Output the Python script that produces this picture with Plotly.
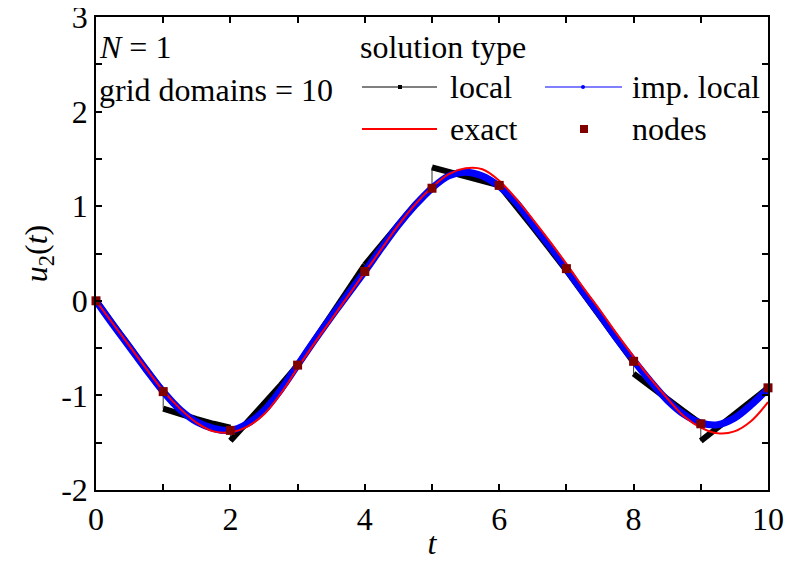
import plotly.graph_objects as go

# sample times (step 0.25) used by all curves
t_grid = [0, 0.25, 0.5, 0.75, 1, 1.25, 1.5, 1.75, 2, 2.25, 2.5, 2.75, 3, 3.25, 3.5, 3.75,
          4, 4.25, 4.5, 4.75, 5, 5.25, 5.5, 5.75, 6, 6.25, 6.5, 6.75, 7, 7.25, 7.5, 7.75,
          8, 8.25, 8.5, 8.75, 9, 9.25, 9.5, 9.75, 10]

exact_u = [0, -0.24, -0.48, -0.72, -0.95, -1.14, -1.29, -1.38, -1.39, -1.33, -1.20, -0.98,
           -0.71, -0.45, -0.20, 0.05, 0.30, 0.55, 0.80, 1.02, 1.20, 1.34, 1.40, 1.39, 1.27,
           1.08, 0.86, 0.63, 0.39, 0.14, -0.10, -0.35, -0.59, -0.82, -1.03, -1.22, -1.34,
           -1.40, -1.38, -1.27, -1.07]

imp_local_u = [0, -0.25, -0.49, -0.73, -0.96, -1.15, -1.28, -1.35, -1.37, -1.30, -1.16, -0.94,
               -0.68, -0.42, -0.17, 0.07, 0.31, 0.56, 0.80, 1.01, 1.19, 1.32, 1.36, 1.32, 1.21,
               1.04, 0.81, 0.58, 0.34, 0.09, -0.15, -0.40, -0.63, -0.85, -1.05, -1.20, -1.29,
               -1.31, -1.24, -1.10, -0.93]

# local solution, one list per grid domain [k, k+1]
local_segments = [
    [0, -0.25, -0.49, -0.73, -0.96],
    [-1.14, -1.20, -1.25, -1.30, -1.34],
    [-1.48, -1.29, -1.09, -0.89, -0.68],
    [-0.68, -0.41, -0.14, 0.13, 0.38],
    [0.38, 0.60, 0.82, 1.02, 1.19],
    [1.41, 1.36, 1.31, 1.27, 1.22],
    [1.22, 1.01, 0.78, 0.55, 0.32],
    [0.32, 0.08, -0.17, -0.41, -0.65],
    [-0.77, -0.91, -1.04, -1.17, -1.30],
    [-1.48, -1.34, -1.20, -1.06, -0.92],
]

node_t = [0, 1, 2, 3, 4, 5, 6, 7, 8, 9, 10]
node_u = [0, -0.96, -1.37, -0.68, 0.31, 1.19, 1.22, 0.34, -0.64, -1.30, -0.92]

y_ticks = [-2, -1, 0, 1, 2, 3]
y_ticklabels = ["-2", "-1", "0", "1", "2", "3"]

FONT = "Times New Roman, Times, serif"
DARKRED = "#800000"

# build local traces
thin_t, thin_u, thick_t, thick_u = [], [], [], []
for k, seg in enumerate(local_segments):
    ts = t_grid[4 * k:4 * k + 5]
    thin_t += ts
    thin_u += seg
    thick_t += ts + [None]
    thick_u += seg + [None]

fig = go.Figure()
fig.add_trace(go.Scatter(x=thin_t, y=thin_u, mode="lines", line=dict(color="#333333", width=1),
                         showlegend=False, hoverinfo="skip"))
fig.add_trace(go.Scatter(x=thick_t, y=thick_u, mode="lines", line=dict(color="black", width=6),
                         name="local", showlegend=False))
fig.add_trace(go.Scatter(x=t_grid, y=imp_local_u, mode="lines",
                         line=dict(color="#0000ff", width=7, shape="spline"),
                         name="imp. local", showlegend=False))
fig.add_trace(go.Scatter(x=t_grid, y=exact_u, mode="lines",
                         line=dict(color="#ff0000", width=2, shape="spline"),
                         name="exact", showlegend=False))
fig.add_trace(go.Scatter(x=node_t, y=node_u, mode="markers",
                         marker=dict(symbol="square", size=9, color=DARKRED),
                         name="nodes", showlegend=False, cliponaxis=False))

# plot area in window pixels: x 96..768, y 17..490 (page body adds an 8px offset)
def px(x):
    return (x - 96) / 672.0


def py(y):
    return (490 - y) / 473.0


shapes = [
    dict(type="line", xref="paper", yref="paper", x0=px(362), x1=px(437), y0=py(87), y1=py(87),
         line=dict(color="black", width=1)),
    dict(type="rect", xref="paper", yref="paper", x0=px(398), x1=px(402), y0=py(85), y1=py(89),
         fillcolor="black", line=dict(width=0)),
    dict(type="line", xref="paper", yref="paper", x0=px(545), x1=px(622), y0=py(87), y1=py(87),
         line=dict(color="#0000ff", width=1)),
    dict(type="circle", xref="paper", yref="paper", x0=px(581), x1=px(585), y0=py(85), y1=py(89),
         fillcolor="#0000ff", line=dict(width=0)),
    dict(type="line", xref="paper", yref="paper", x0=px(362), x1=px(437), y0=py(129), y1=py(129),
         line=dict(color="#ff0000", width=2)),
    dict(type="rect", xref="paper", yref="paper", x0=px(580), x1=px(588), y0=py(125), y1=py(133),
         fillcolor=DARKRED, line=dict(width=0)),
]


def label(text, x, y):
    return dict(text=text, xref="paper", yref="paper", x=px(x), y=py(y), xanchor="left",
                yanchor="middle", showarrow=False, font=dict(family=FONT, size=32, color="black"))


annotations = [
    label("<i>N</i> = 1", 97, 47),
    label("grid domains = 10", 97, 90),
    label("solution type", 358, 47),
    label("local", 448, 87),
    label("imp. local", 630, 87),
    label("exact", 448, 129),
    label("nodes", 630, 129),
]

axis_common = dict(showline=True, linecolor="black", linewidth=1.5, mirror="ticks",
                   ticks="inside", ticklen=6, tickwidth=1.5, tickcolor="black",
                   showgrid=False, zeroline=False, automargin=False,
                   ticklabeloverflow="allow",
                   tickfont=dict(family=FONT, size=32, color="black"))

fig.update_layout(
    width=785, height=553,
    margin=dict(l=88, r=25, t=9, b=71),
    paper_bgcolor="white", plot_bgcolor="white",
    font=dict(family=FONT, size=32, color="black"),
    shapes=shapes, annotations=annotations,
    xaxis=dict(range=[0, 10], tickvals=[0, 2, 4, 6, 8, 10],
               title=dict(text="<i>t</i>", standoff=0, font=dict(family=FONT, size=32)),
               **axis_common),
    yaxis=dict(range=[-2, 3], tickvals=y_ticks, ticktext=y_ticklabels,
               title=dict(text="<i>u</i><sub>2</sub>(<i>t</i>)", standoff=4,
                          font=dict(family=FONT, size=32)),
               **axis_common),
)
fig.update_xaxes(minor=dict(dtick=1, ticks="inside", ticklen=6, tickwidth=1.5, tickcolor="black"))
fig.update_yaxes(minor=dict(dtick=0.5, ticks="inside", ticklen=6, tickwidth=1.5, tickcolor="black"))

fig.write_html("out.html")
